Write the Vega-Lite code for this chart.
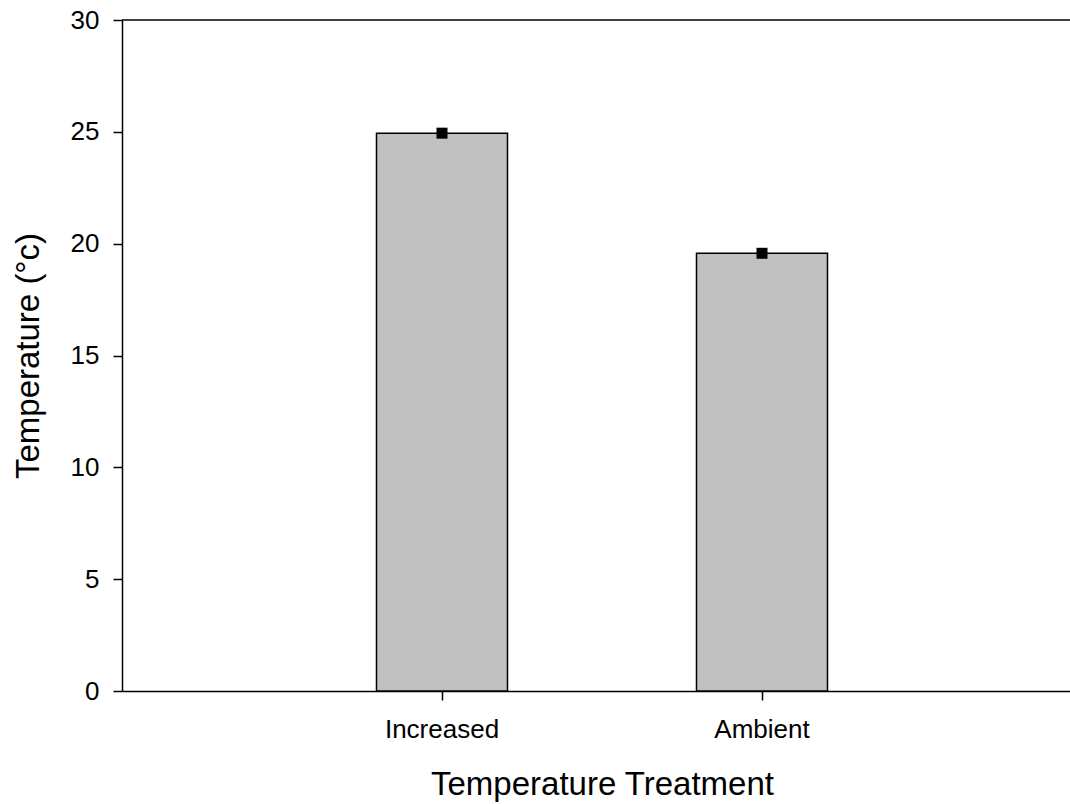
{
  "$schema": "https://vega.github.io/schema/vega-lite/v6.json",
  "autosize": {"type": "none"},
  "padding": {"left": 122, "top": 20, "right": 0, "bottom": 113},
  "width": 948,
  "height": 671,
  "background": "white",
  "config": {
    "view": {"stroke": null},
    "font": "Liberation Sans",
    "axis": {
      "domainColor": "black",
      "domainWidth": 1.5,
      "tickColor": "black",
      "tickWidth": 1.5,
      "tickSize": 9,
      "labelColor": "black",
      "labelFont": "Liberation Sans",
      "labelFontSize": 26,
      "titleColor": "black",
      "titleFont": "Liberation Sans",
      "titleFontSize": 33,
      "titleFontWeight": "normal",
      "grid": false
    }
  },
  "data": {
    "values": [
      {"treatment": "Increased", "temperature": 24.94},
      {"treatment": "Ambient", "temperature": 19.57}
    ]
  },
  "layer": [
    {
      "mark": {"type": "bar", "fill": "#C0C0C0", "stroke": "black", "strokeWidth": 1.5},
      "encoding": {
        "x": {
          "field": "treatment",
          "type": "nominal",
          "sort": ["Increased", "Ambient"],
          "scale": {"range": [0, 960], "paddingInner": 0.5906, "paddingOuter": 0.7953},
          "axis": {
            "title": "Temperature Treatment",
            "labelAngle": 0,
            "labelPadding": 16,
            "titlePadding": 26
          }
        },
        "y": {
          "field": "temperature",
          "type": "quantitative",
          "scale": {"domain": [0, 30], "nice": false},
          "axis": {
            "title": "Temperature (°c)",
            "values": [0, 5, 10, 15, 20, 25, 30],
            "labelPadding": 14,
            "titlePadding": 25
          }
        }
      }
    },
    {
      "mark": {"type": "point", "shape": "square", "filled": true, "color": "black", "size": 121, "opacity": 1},
      "encoding": {
        "x": {"field": "treatment", "type": "nominal", "sort": ["Increased", "Ambient"]},
        "y": {"field": "temperature", "type": "quantitative"}
      }
    },
    {
      "data": {"values": [{"top": 30}]},
      "mark": {"type": "rule", "color": "black", "strokeWidth": 1.5},
      "encoding": {"y": {"field": "top", "type": "quantitative"}}
    }
  ]
}
